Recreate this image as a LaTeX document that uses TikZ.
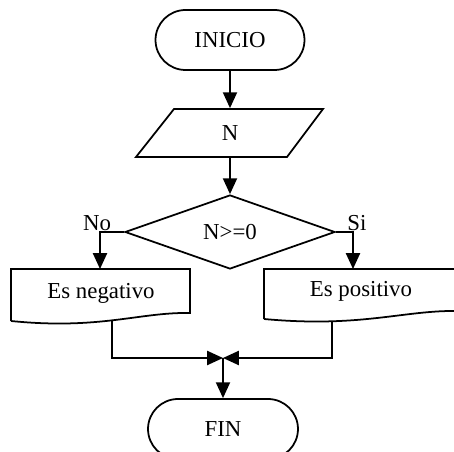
\documentclass[tikz,border=0pt]{standalone}
\usepackage{fontspec}
\setmainfont{Liberation Serif}
\usetikzlibrary{arrows.meta,shapes.geometric}
\begin{document}
\begin{tikzpicture}[x=0.02cm,y=-0.02cm,
  line width=1pt,
  every node/.style={font=\fontsize{13pt}{15pt}\selectfont},
  arr/.style={-{Triangle[length=9pt,width=8pt]}},
  terminal/.style={draw,rectangle,rounded corners=0.6cm,minimum width=2.98cm,minimum height=1.2cm,inner sep=0pt},
  textbox/.style={inner sep=0pt,minimum height=0.96cm},
  decision/.style={draw,diamond,minimum width=4.2cm,minimum height=1.48cm,inner sep=0pt}]
  \useasboundingbox (0,0) rectangle (454,452);

  % start terminal
  \node[terminal] (ini) at (230,40) {INICIO};

  % input parallelogram
  \node[textbox] (inp) at (230,133) {N};
  \draw (174,109) -- (323,109) -- (287,157) -- (136,157) -- cycle;

  % decision
  \node[decision] (dec) at (230,232) {N>=0};
  \node (no) at (97,223) {No};
  \node (si) at (357,223) {Si};

  % document boxes with wavy bottoms
  \draw (11,321) -- (11,269) -- (190,269) -- (190,313)
        .. controls (140,312) and (100,330) .. (11,321);
  \node (neg) at (101,293) {Es negativo};
  \draw (264,319) -- (264,269) -- (458,269) -- (458,311)
        .. controls (404,310) and (361,328) .. (264,319);
  \node (pos) at (361,291) {Es positivo};

  \coordinate (negIn) at (100,269);
  \coordinate (posIn) at (353,269);
  \coordinate (negOut) at (112,320);
  \coordinate (posOut) at (332,322);
  \coordinate (join) at (223,358);

  % end terminal
  \node[terminal,minimum width=3cm] (fin) at (223,429) {FIN};

  % connectors
  \draw[arr] (ini.south) -- (inp.north);
  \draw[arr] (inp.south) -- (dec.north);
  \draw[arr] (dec.west) -| (negIn);
  \draw[arr] (dec.east) -| (posIn);
  \draw[arr] (negOut) |- (join);
  \draw[arr] (posOut) |- (join);
  \draw[arr] (join) -- (fin.north);
\end{tikzpicture}
\end{document}
